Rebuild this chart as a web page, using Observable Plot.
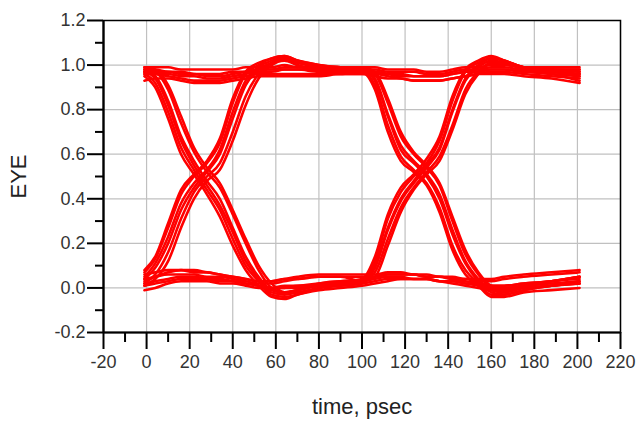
<!DOCTYPE html>
<html><head><meta charset="utf-8">
<script src="https://cdn.jsdelivr.net/npm/d3@7"></script>
<script src="https://cdn.jsdelivr.net/npm/@observablehq/plot@0.6"></script>
<style>body{margin:0;background:#fff} svg{display:block}</style>
</head><body><div id="chart"></div>
<script>
// sample times (psec) shared by every trace
const timesPs = [-1,4,10,16,22,28,34,40,46,52,58,64,70,80,90,100,106,112,118,124,130,136,142,148,154,160,166,175,188,201];

// eye traces, named by bit pattern
const trace000a = [0.01,0.02,0.03,0.04,0.04,0.04,0.04,0.03,0.02,0.01, 0.00,0.00,0.00,0.01,0.01, 0.02,0.03,0.04,0.04,0.04,0.04,0.03,0.03,0.02,0.01,0.00,0.00,0.01,0.02,0.03];
const trace000b = [0.06,0.07,0.08,0.08,0.07,0.07,0.06,0.05,0.04,0.03, 0.03,0.04,0.05,0.06,0.06, 0.06,0.06,0.07,0.07,0.06,0.06,0.05,0.05,0.04,0.04,0.04,0.05,0.06,0.07,0.08];
const trace000c = [0.03,0.05,0.07,0.08,0.08,0.07,0.06,0.05,0.04,0.03, 0.03,0.04,0.04,0.05,0.05, 0.05,0.05,0.06,0.06,0.06,0.05,0.05,0.04,0.03,0.02,0.01,0.01,0.02,0.03,0.05];
const trace001a = [-0.01,0.00,0.02,0.03,0.03,0.03,0.02,0.02,0.01,0.00, 0.00,0.01,0.01,0.02,0.03, 0.04,0.14,0.33,0.45,0.51,0.58,0.68,0.86,0.98,1.02,1.04,1.02,0.99,0.97,0.96];
const trace001b = [0.04,0.05,0.06,0.06,0.06,0.05,0.05,0.04,0.03,0.02, 0.02,0.03,0.04,0.05,0.05, 0.03,0.05,0.19,0.34,0.44,0.51,0.57,0.71,0.87,0.96,1.01,1.01,0.98,0.96,0.93];
const trace001c = [0.02,0.03,0.04,0.05,0.05,0.04,0.03,0.03,0.02,0.01, 0.00,0.00,0.01,0.01,0.02, 0.03,0.09,0.26,0.39,0.47,0.54,0.62,0.79,0.93,0.99,1.02,1.01,0.99,0.98,0.98];
const trace010a = [0.07,0.13,0.27,0.42,0.50,0.56,0.65,0.83,0.96,1.00, 1.03,1.04,1.02,0.99,0.98, 0.97,0.89,0.70,0.57,0.52,0.46,0.34,0.17,0.06,0.01,-0.04,-0.04,-0.02,-0.01,0.00];
const trace010b = [0.01,0.04,0.12,0.27,0.40,0.48,0.53,0.66,0.82,0.94, 1.00,1.02,1.00,0.98,0.97, 0.99,0.96,0.83,0.68,0.60,0.54,0.46,0.30,0.15,0.06,0.00,-0.01,0.01,0.03,0.04];
const trace010c = [0.04,0.09,0.20,0.35,0.45,0.52,0.60,0.76,0.91,0.98, 1.01,1.03,1.02,1.00,0.99, 0.98,0.93,0.77,0.62,0.56,0.50,0.40,0.24,0.11,0.03,-0.02,-0.03,-0.01,0.01,0.02];
const trace011a = [0.08,0.14,0.29,0.44,0.51,0.57,0.67,0.85,0.97,1.01, 1.03,1.04,1.02,1.00,0.99, 0.99,0.99,0.98,0.98,0.98,0.97,0.97,0.98,0.99,0.99,1.00,1.00,0.99,0.99,0.99];
const trace011b = [0.02,0.06,0.16,0.31,0.43,0.50,0.56,0.70,0.86,0.96, 1.01,1.03,1.00,0.97,0.96, 0.96,0.95,0.94,0.94,0.93,0.93,0.93,0.94,0.95,0.96,0.97,0.97,0.96,0.95,0.94];
const trace011c = [0.05,0.11,0.23,0.38,0.47,0.53,0.62,0.79,0.93,0.99, 1.02,1.03,1.01,0.99,0.98, 0.98,0.97,0.96,0.96,0.95,0.95,0.95,0.96,0.97,0.98,0.98,0.98,0.97,0.97,0.96];
const trace100a = [0.95,0.90,0.76,0.60,0.51,0.42,0.32,0.19,0.08,0.01, -0.04,-0.05,-0.03,-0.01,0.00, 0.01,0.02,0.03,0.04,0.04,0.04,0.03,0.02,0.01,0.00,-0.01,-0.01,0.00,0.01,0.02];
const trace100b = [0.99,0.98,0.91,0.77,0.63,0.54,0.47,0.35,0.22,0.10, 0.02,-0.02,-0.01,0.02,0.03, 0.03,0.05,0.06,0.06,0.06,0.05,0.05,0.04,0.04,0.03,0.03,0.04,0.05,0.06,0.07];
const trace100c = [0.97,0.95,0.84,0.68,0.57,0.48,0.40,0.27,0.14,0.05, -0.01,-0.02,-0.01,0.01,0.02, 0.03,0.04,0.05,0.05,0.04,0.04,0.03,0.03,0.02,0.02,0.01,0.01,0.02,0.03,0.05];
const trace101a = [0.96,0.92,0.79,0.63,0.53,0.44,0.35,0.22,0.10,0.03, -0.03,-0.04,-0.03,0.00,0.02, 0.03,0.07,0.22,0.36,0.45,0.52,0.59,0.73,0.89,0.97,1.01,1.01,0.98,0.97,0.95];
const trace101b = [0.98,0.97,0.89,0.74,0.61,0.52,0.45,0.33,0.20,0.08, 0.00,-0.02,-0.01,0.01,0.02, 0.03,0.12,0.31,0.43,0.50,0.56,0.66,0.84,0.97,1.01,1.03,1.02,0.99,0.98,0.97];
const trace101c = [0.97,0.94,0.82,0.66,0.55,0.46,0.37,0.25,0.12,0.04, -0.02,-0.03,-0.02,0.00,0.01, 0.02,0.10,0.27,0.40,0.48,0.55,0.63,0.80,0.94,1.00,1.03,1.02,0.99,0.98,0.98];
const trace110a = [0.97,0.96,0.95,0.94,0.93,0.93,0.93,0.94,0.95,0.96, 0.96,0.96,0.96,0.96,0.96, 0.97,0.91,0.73,0.59,0.53,0.47,0.36,0.19,0.08,0.02,-0.03,-0.03,-0.01,0.01,0.02];
const trace110b = [0.99,0.99,0.99,0.98,0.98,0.98,0.98,0.98,0.99,0.99, 0.99,1.00,0.99,0.99,0.99, 0.99,0.97,0.85,0.70,0.61,0.55,0.47,0.32,0.17,0.07,0.01,0.00,0.01,0.03,0.05];
const trace110c = [0.98,0.97,0.97,0.96,0.96,0.95,0.95,0.96,0.97,0.98, 0.98,0.98,0.98,0.98,0.98, 0.98,0.94,0.78,0.64,0.57,0.51,0.42,0.26,0.12,0.04,-0.01,-0.02,0.00,0.01,0.03];
const trace111a = [0.93,0.94,0.94,0.93,0.92,0.92,0.92,0.93,0.94,0.95, 0.95,0.95,0.95,0.95,0.96, 0.96,0.96,0.95,0.94,0.93,0.93,0.93,0.94,0.95,0.96,0.96,0.96,0.95,0.94,0.92];
const trace111b = [0.98,0.98,0.97,0.97,0.96,0.96,0.96,0.97,0.97,0.98, 0.98,0.99,0.99,0.98,0.98, 0.98,0.98,0.97,0.97,0.97,0.96,0.96,0.97,0.98,0.98,0.99,0.99,0.98,0.98,0.97];
const trace111c = [0.96,0.96,0.96,0.95,0.95,0.94,0.94,0.95,0.96,0.97, 0.97,0.98,0.98,0.97,0.97, 0.97,0.97,0.96,0.95,0.95,0.95,0.95,0.96,0.97,0.97,0.98,0.98,0.97,0.96,0.95];

const traceNames = ["000a","000b","000c","001a","001b","001c","010a","010b","010c","011a","011b","011c",
                    "100a","100b","100c","101a","101b","101c","110a","110b","110c","111a","111b","111c"];
const traceValues = [trace000a,trace000b,trace000c,trace001a,trace001b,trace001c,trace010a,trace010b,trace010c,trace011a,trace011b,trace011c,
                     trace100a,trace100b,trace100c,trace101a,trace101b,trace101c,trace110a,trace110b,trace110c,trace111a,trace111b,trace111c];

const xTicks = [-20,0,20,40,60,80,100,120,140,160,180,200,220];
const xTickLabels = ["-20","0","20","40","60","80","100","120","140","160","180","200","220"];
const xMinorTicks = [-10,10,30,50,70,90,110,130,150,170,190,210];
const yTicks = [-0.2,0,0.2,0.4,0.6,0.8,1.0,1.2];
const yTickLabels = ["-0.2","0.0","0.2","0.4","0.6","0.8","1.0","1.2"];
const yMinorTicks = [-0.1,0.1,0.3,0.5,0.7,0.9,1.1];
const xTitle = "time, psec";
const yTitle = "EYE";

const rows = [];
traceNames.forEach((name, k) => traceValues[k].forEach((v, i) => rows.push({trace: name, t: timesPs[i], v})));
const xLabelMap = new Map(xTicks.map((d, i) => [d, xTickLabels[i]]));
const yLabelMap = new Map(yTicks.map((d, i) => [d, yTickLabels[i]]));

const chart = Plot.plot({
  width: 636, height: 421,
  marginLeft: 103, marginRight: 16, marginTop: 20, marginBottom: 89,
  style: {fontFamily: "'Liberation Sans', Arial, sans-serif", background: "#fff", overflow: "visible"},
  x: {domain: [xTicks[0], xTicks[xTicks.length - 1]], label: null},
  y: {domain: [yTicks[0], yTicks[yTicks.length - 1]], label: null},
  marks: [
    Plot.gridX(xTicks, {stroke: "#c0c0c0", strokeOpacity: 1, strokeWidth: 1.2}),
    Plot.gridY(yTicks, {stroke: "#c0c0c0", strokeOpacity: 1, strokeWidth: 1.2}),
    Plot.line(rows, {x: "t", y: "v", z: "trace", stroke: "#ff0000", strokeWidth: 2.6, curve: "monotone-x"}),
    Plot.frame({stroke: "#000", strokeWidth: 1.5}),
    Plot.ruleX([xTicks[0]], {stroke: "#000", strokeWidth: 2.2}),
    Plot.ruleY([yTicks[0]], {stroke: "#000", strokeWidth: 2.2}),
    Plot.axisX(xTicks, {tickSize: 17, tickPadding: 6, tickFormat: d => xLabelMap.get(d), fontSize: 18, stroke: "#000", fill: "#333", strokeWidth: 2, label: null}),
    Plot.axisX(xMinorTicks, {tickSize: 10, tickFormat: () => "", stroke: "#000", strokeWidth: 2, label: null}),
    Plot.axisY(yTicks, {tickSize: 16, tickPadding: 2, tickFormat: d => yLabelMap.get(d), fontSize: 18, stroke: "#000", fill: "#333", strokeWidth: 2, label: null}),
    Plot.axisY(yMinorTicks, {tickSize: 8, tickFormat: () => "", stroke: "#000", strokeWidth: 2, label: null}),
    Plot.axisX([], {tickSize: 0, label: xTitle, labelAnchor: "center", labelArrow: false, labelOffset: 81, fontSize: 22, fill: "#222"}),
    Plot.axisY([], {tickSize: 0, label: yTitle, labelAnchor: "center", labelArrow: false, labelOffset: 93, fontSize: 22, fill: "#222"})
  ]
});
document.getElementById("chart").append(chart);
</script>
</body></html>
